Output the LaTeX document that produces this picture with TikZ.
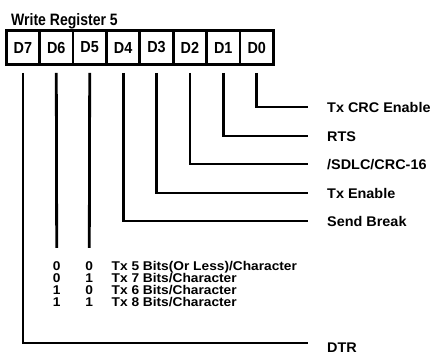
\documentclass[tikz,border=0pt]{standalone}
\usepackage{fontspec}
\setmainfont{Liberation Sans}
\newfontfamily\titlefont{Liberation Sans}[FakeStretch=0.85]
\newfontfamily\cellfont{Liberation Sans}[FakeStretch=0.9]
\newfontfamily\labelfont{Liberation Sans}[FakeStretch=1.03]
\newfontfamily\tablefont{Liberation Sans}[FakeStretch=1.08]
\begin{document}
\begin{tikzpicture}[x=1pt,y=-1pt,
  wire/.style={line width=2.8pt},
  cell/.style={draw, line width=2.8pt, minimum width=33.4pt, minimum height=34pt, inner sep=0pt,
    font=\cellfont\fontsize{16}{16}\selectfont\bfseries},
  lbl/.style={anchor=west, inner sep=0pt, text height=10pt, text depth=0pt,
    font=\labelfont\fontsize{14}{14}\selectfont\bfseries},
  tbl/.style={anchor=west, inner sep=0pt, text height=9.2pt, text depth=0pt,
    font=\tablefont\fontsize{12.7}{12.7}\selectfont\bfseries},
  dig/.style={anchor=center, inner sep=0pt, text height=9.2pt, text depth=0pt,
    font=\tablefont\fontsize{12.7}{12.7}\selectfont\bfseries}]
\useasboundingbox (0,0) rectangle (430,356);
\node[anchor=base west, inner sep=0pt, font=\titlefont\fontsize{16.5}{16.5}\selectfont\bfseries] (title) at (11,25) {Write Register 5};
% register cells
\node[cell] (c7) at (22.9,47.5) {D7};
\node[cell] (c6) at (56.3,47.5) {D6};
\node[cell] (c5) at (89.7,47.5) {D5};
\node[cell] (c4) at (123.1,47.5) {D4};
\node[cell] (c3) at (156.5,47.5) {D3};
\node[cell] (c2) at (189.9,47.5) {D2};
\node[cell] (c1) at (223.3,47.5) {D1};
\node[cell] (c0) at (256.7,47.5) {D0};
% labels
\node[lbl] (t0) at (327,107) {Tx CRC Enable};
\node[lbl] (t1) at (327,136) {RTS};
\node[lbl] (t2) at (327,164) {/SDLC/CRC-16};
\node[lbl] (t3) at (327,193) {Tx Enable};
\node[lbl] (t4) at (327,221) {Send Break};
\node[lbl] (t7) at (327,347) {DTR};
\coordinate (e7) at (308,343);
% connectors
\draw[wire] ([yshift=-7pt]c0.south) |- ([xshift=-19pt]t0.west);
\draw[wire] ([yshift=-7pt]c1.south) |- ([xshift=-19pt]t1.west);
\draw[wire] ([yshift=-7pt]c2.south) |- ([xshift=-19pt]t2.west);
\draw[wire] ([yshift=-7pt]c3.south) |- ([xshift=-19pt]t3.west);
\draw[wire] ([yshift=-7pt]c4.south) |- ([xshift=-19pt]t4.west);
\draw[wire] ([yshift=-7pt]c7.south) |- (e7);
% table
\node[dig] (a0) at (56.7,266) {0};
\node[dig] (b0) at (89.3,266) {0};
\node[dig] (a1) at (56.7,278) {0};
\node[dig] (b1) at (89.3,278) {1};
\node[dig] (a2) at (56.7,290) {1};
\node[dig] (b2) at (89.3,290) {0};
\node[dig] (a3) at (56.7,302) {1};
\node[dig] (b3) at (89.3,302) {1};
\node[tbl] (r0) at (111.5,266) {Tx 5 Bits(Or Less)/Character};
\node[tbl] (r1) at (111.5,278) {Tx 7 Bits/Character};
\node[tbl] (r2) at (111.5,290) {Tx 6 Bits/Character};
\node[tbl] (r3) at (111.5,302) {Tx 8 Bits/Character};
\draw[wire] ([yshift=-7pt]c6.south) -- ([yshift=13.4pt]a0.north);
\draw[wire] ([yshift=-7pt]c5.south) -- ([yshift=13.4pt]b0.north);
\end{tikzpicture}
\end{document}
